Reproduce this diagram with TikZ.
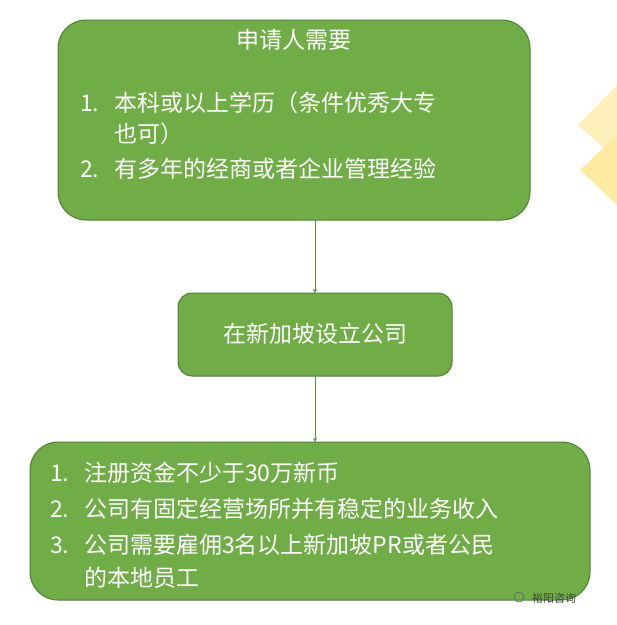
\documentclass[tikz,border=0pt]{standalone}
\usepackage{fontspec}
\setmainfont{Noto Sans CJK SC}
\begin{document}
\begin{tikzpicture}[x=1pt,y=-1pt,
  box/.style={draw={rgb,255:red,80;green,126;blue,50}, fill={rgb,255:red,112;green,173;blue,71}, line width=1pt, rounded corners=28pt},
  txt/.style={text=white, font=\fontsize{23}{28}\selectfont, inner sep=0pt},
  num/.style={text=white, font=\fontsize{23}{28}\selectfont, inner sep=0pt, anchor=west},
  arr/.style={draw={rgb,255:red,90;green,140;blue,60}, ->, >=stealth, line width=0.8pt}]
\useasboundingbox (0,0) rectangle (617,625);
\fill[yellow!60!orange!25] (617,85) -- (578,125) -- (617,160) -- cycle;
\fill[yellow!60!orange!35] (617,135) -- (580,170) -- (617,205) -- cycle;
\path[box] (58,20) rectangle (530,220);
\path[box, rounded corners=14pt] (178,293) rectangle (452,376);
\path[box] (30,442) rectangle (590,600);
\coordinate (a1) at (315,220); \coordinate (a2) at (315,293);
\coordinate (a3) at (315,376); \coordinate (a4) at (315,442);
\draw[arr] (a1) -- (a2);
\draw[arr] (a3) -- (a4);
\node[txt] (t0) at (294,40) {申请人需要};
\node[num] (n1) at (80,103) {1.};
\node[num] (t1) at (114,103) {本科或以上学历（条件优秀大专};
\node[num] (t1b) at (114,134) {也可）};
\node[num] (n2) at (80,169) {2.};
\node[num] (t2) at (114,169) {有多年的经商或者企业管理经验};
\node[txt] (m) at (315,334) {在新加坡设立公司};
\node[num] (m1) at (50,473) {1.};
\node[num] (s1) at (84,473) {注册资金不少于30万新币};
\node[num] (m2) at (50,509) {2.};
\node[num] (s2) at (84,509) {公司有固定经营场所并有稳定的业务收入};
\node[num] (m3) at (50,545) {3.};
\node[num] (s3) at (84,545) {公司需要雇佣3名以上新加坡PR或者公民};
\node[num] (s3b) at (84,578) {的本地员工};
\node[font=\fontsize{11}{13}\selectfont, text=black!75, anchor=west, inner sep=0pt] (wm) at (532,598) {裕阳咨询};
\draw[black!60, line width=0.8pt] (519,597) circle (5pt);
\end{tikzpicture}
\end{document}
